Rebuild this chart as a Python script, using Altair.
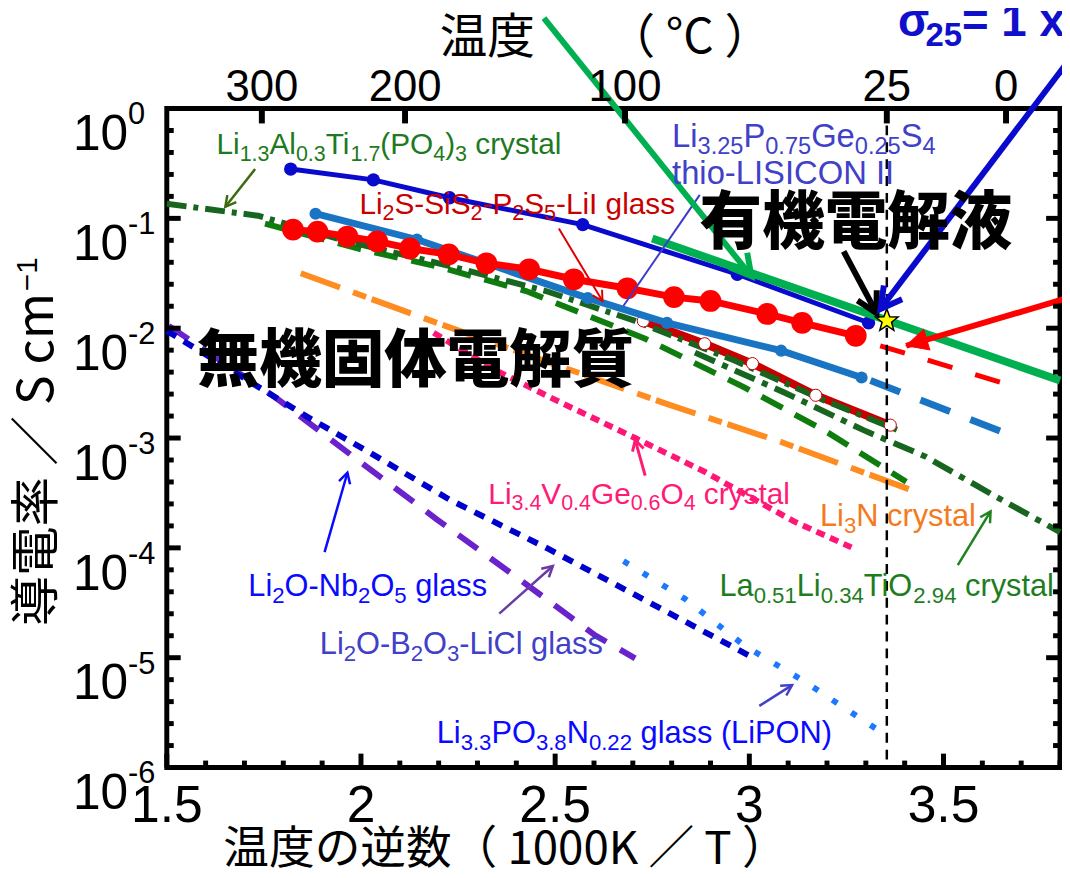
import math
import numpy as np
import pandas as pd
import altair as alt

# ---------------- measured series: x = 1000/T (1/K), y = conductivity (S/cm) ----------------
thio_x = [1.819, 2.032, 2.228, 2.571, 2.969, 3.307]
thio_y = [0.281, 0.224, 0.154, 0.0877, 0.0310, 0.0112]

redc_x = [1.825, 1.888, 1.965, 2.042, 2.126, 2.226, 2.323, 2.433, 2.548, 2.686, 2.806, 2.900, 3.046, 3.136, 3.274]
redc_y = [0.0790, 0.0758, 0.0683, 0.0616, 0.0532, 0.0470, 0.0390, 0.0344, 0.0279, 0.0231, 0.0192, 0.0177, 0.01348, 0.01117, 0.00853]
redext_x = [3.337, 3.657]
redext_y = [0.00692, 0.00314]

lblue_x = [1.883, 2.144, 2.584, 2.788, 3.082, 3.289]
lblue_y = [0.1102, 0.0642, 0.0188, 0.01117, 0.00624, 0.00356]
lbext_x = [3.312, 3.659]
lbext_y = [0.00334, 0.00111]

band_x = [2.727, 2.885, 3.008, 3.171, 3.363]
band_y = [0.01165, 0.00722, 0.00476, 0.00245, 0.00131]

latp_x = [1.500, 1.735, 1.965, 2.221, 2.476, 2.706, 2.962, 3.192, 3.396]
latp_y = [0.1357, 0.1057, 0.0616, 0.0374, 0.0218, 0.01165, 0.00507, 0.00221, 0.00113]

llto_x = [2.860, 3.090, 3.294, 3.455, 3.626, 3.800]
llto_y = [0.00599, 0.00260, 0.00118, 0.000674, 0.000305, 0.000139]

lgreen_x = [1.753, 1.991, 2.195, 2.425, 2.732, 2.987, 3.192, 3.404]
lgreen_y = [0.0895, 0.0532, 0.0366, 0.0218, 0.00801, 0.00289, 0.00118, 0.000400]

li3n_x = [1.845, 2.203, 2.783, 3.082, 3.414]
li3n_y = [0.0316, 0.01094, 0.00207, 0.000920, 0.000339]

lvgo_x = [2.187, 2.348, 2.502, 2.706, 2.885, 3.115, 3.263]
lvgo_y = [0.00908, 0.00412, 0.00221, 0.00100, 0.000493, 0.000174, 0.000101]

lno_x = [1.500, 1.717, 1.863, 2.024, 2.228, 2.484, 2.739, 3.013]
lno_y = [0.00946, 0.00321, 0.00155, 0.000732, 0.000275, 0.0000973, 0.0000323, 0.00000986]

lbl_x = [1.505, 1.779, 1.991, 2.195, 2.407, 2.604, 2.706]
lbl_y = [0.0105, 0.00235, 0.000633, 0.000182, 0.0000521, 0.0000159, 0.00000986]

lipon_x = [2.676, 2.834, 2.987, 3.141, 3.353]
lipon_y = [7.58e-5, 3.44e-5, 1.29e-5, 6.11e-6, 1.95e-6]

org_x = [2.750, 3.800]
org_y = [0.0655, 0.00334]

star_x = [3.354]
star_y = [0.0117]

# ---------------- axis ticks ----------------
top_c = [300, 200, 100, 25, 0]
bot_major = [1.5, 2.0, 2.5, 3.0, 3.5]
bot_labels = ["1.5", "2", "2.5", "3", "3.5"]
y_exps = [0, -1, -2, -3, -4, -5, -6]

# ---------------- annotation anchors (data coords) ----------------
arr_x0 = [1.7274, 2.5095, 2.8724, 2.4711, 3.2429, 3.8179, 3.8102, 2.7318, 3.5368, 1.9063, 2.3561, 3.0257]
arr_y0 = [0.2811, 0.0807, 0.1637, 6.642, 0.05, 2.604, 0.01841, 0.000454, 0.0000697, 0.0000914, 0.0000252, 0.00000364]
arr_x1 = [1.6508, 2.6219, 2.6756, 3.0052, 3.3273, 3.3375, 3.4039, 2.7062, 3.6211, 1.9651, 2.4941, 3.1100]
arr_y1 = [0.1274, 0.01766, 0.01591, 0.02971, 0.01376, 0.01495, 0.00692, 0.000959, 0.000215, 0.000483, 0.0000683, 0.00000563]
arr_col = ["#3f6b10", "#e00000", "#3c3cc8", "#00b050", "#000000", "#0a0acd", "#ff0000",
           "#ff1a75", "#1e821e", "#0a0aff", "#6a3aa8", "#4040c8"]
arr_w = [2.5, 2, 2, 6, 6, 6, 6, 3, 2.5, 2.5, 2.5, 2.5]
arr_head = ["v", "v", "none", "v", "v", "v", "tri", "v", "v", "v", "v", "v"]
arr_hsize = [441, 400, 0, 1764, 1600, 1764, 1300, 441, 441, 441, 441, 441]

# ---------------- layout constants ----------------
SANS = "Liberation Sans, Arial, sans-serif"
NF = 1.0
CJK = "Noto Sans CJK JP"
W, H = 900, 664
X0, X1 = 1.5, 3.8
PXX = W / (X1 - X0)
PXD = H / 6.0

xs = alt.Scale(domain=[X0, X1], nice=False, zero=False)
ys = alt.Scale(type="log", domain=[1e-6, 1], nice=False)


def X(f="x"):
    return alt.X(f"{f}:Q", scale=xs, axis=None)


def Y(f="y"):
    return alt.Y(f"{f}:Q", scale=ys, axis=None)


def line(xv, yv, color, width, dash=None):
    df = pd.DataFrame({"x": xv, "y": yv, "o": list(range(len(xv)))})
    kw = dict(color=color, strokeWidth=width)
    if dash:
        kw["strokeDash"] = dash
    return alt.Chart(df).mark_line(**kw).encode(x=X(), y=Y(), order="o:Q")


def pts(xv, yv, size, fill, stroke=None, sw=0, shape="circle"):
    df = pd.DataFrame({"x": xv, "y": yv})
    kw = dict(shape=shape, filled=True, fill=fill, size=size, opacity=1)
    if stroke:
        kw.update(stroke=stroke, strokeWidth=sw)
    else:
        kw.update(strokeWidth=0)
    return alt.Chart(df).mark_point(**kw).encode(x=X(), y=Y())


VEE = "M -0.55 1 L 0 0 L 0.55 1"
TRI = "M 0 0 L -0.6 1.2 L 0.6 1.2 Z"
_sp = []
for k in range(10):
    r = 1.0 if k % 2 == 0 else 0.42
    a = math.pi / 2 + k * math.pi / 5
    _sp.append(f"{r * math.cos(a):.3f},{-r * math.sin(a):.3f}")
STAR = "M " + " L ".join(_sp) + " Z"


def head_angle(x0, y0, x1, y1):
    dxp = (x1 - x0) * PXX
    dyp = -(math.log10(y1) - math.log10(y0)) * PXD
    return math.degrees(math.atan2(dxp, -dyp)) % 360


WID = {" ": 278, "(": 333, ")": 333, "-": 333, ".": 278, "=": 584,
       "A": 667, "B": 667, "C": 722, "D": 722, "E": 667, "G": 778, "I": 278, "K": 667,
       "L": 556, "N": 722, "O": 778, "P": 667, "S": 667, "T": 611, "V": 667,
       "a": 556, "b": 556, "c": 500, "e": 556, "g": 556, "h": 556, "i": 222, "l": 222,
       "m": 833, "n": 556, "o": 556, "r": 333, "s": 500, "t": 278, "x": 500, "y": 500,
       "σ": 600}


def textw(t):
    return sum(WID.get(ch, 556) for ch in t) / 1000.0


def rich(parts, x0, y0, size, color, nf=NF):
    rows = []
    off = 0.0
    for txt, mode in parts:
        if mode == "n":
            fs, dy = size, 0.0
        elif mode == "b":
            fs, dy = size * 0.72, size * 0.22
        else:
            fs, dy = size * 0.65, -size * 0.42
        lead = len(txt) - len(txt.lstrip(" "))
        off += textw(" " * lead) * fs * nf
        body = txt.lstrip(" ")
        rows.append(dict(x=x0 + off / PXX, y=y0 * 10 ** (-dy / PXD), t=body, s=fs, c=color))
        off += textw(body) * fs * nf
    return rows


layers = []

# series (back to front)
layers.append(line(lbl_x, lbl_y, "#6a22cc", 6, [24, 16]))
layers.append(line(lno_x, lno_y, "#0000cc", 6, [11, 9]))
layers.append(line(lipon_x, lipon_y, "#1e78ff", 6, [6, 17]))
layers.append(line(lvgo_x, lvgo_y, "#ff1777", 6, [9, 6]))
layers.append(line(li3n_x, li3n_y, "#ff8c20", 6, [42, 14, 14, 6]))
layers.append(line(band_x, band_y, "#c80000", 8))
layers.append(line(lgreen_x, lgreen_y, "#0e7d0e", 6, [24, 14]))
layers.append(line(latp_x, latp_y, "#17651f", 6, [20, 7, 5, 7]))
layers.append(line(llto_x, llto_y, "#17651f", 6, [22, 8, 6, 8]))
layers.append(pts(band_x, band_y, 150, "white", "#c80000", 1))
layers.append(line(lblue_x, lblue_y, "#1a74c4", 7))
layers.append(pts(lblue_x, lblue_y, 150, "#1a74c4"))
layers.append(line(lbext_x, lbext_y, "#1a74c4", 7, [32, 22]))
layers.append(line(redc_x, redc_y, "#ff0000", 7))
layers.append(pts(redc_x, redc_y, 480, "#ff0000"))
layers.append(line(redext_x, redext_y, "#ff0000", 5, [26, 24]))
layers.append(line(thio_x, thio_y, "#0a0acd", 5))
layers.append(pts(thio_x, thio_y, 180, "#0a0acd"))
layers.append(line(org_x, org_y, "#00b050", 8))

# 25 C dashed line
layers.append(alt.Chart(pd.DataFrame({"x": [1000 / 298.15]})).mark_rule(
    color="black", strokeWidth=2.5, strokeDash=[10, 7]).encode(x=X()))

# star
layers.append(pts(star_x, star_y, 576, "#ffff00", "black", 1.5, shape=STAR))

# arrows
for i in range(len(arr_x0)):
    df = pd.DataFrame({"x": [arr_x0[i]], "y": [arr_y0[i]], "x2": [arr_x1[i]], "y2": [arr_y1[i]]})
    layers.append(alt.Chart(df).mark_rule(color=arr_col[i], strokeWidth=arr_w[i]).encode(
        x=X("x"), y=Y("y"), x2="x2:Q", y2="y2:Q"))
    if arr_head[i] == "none":
        continue
    hd = pd.DataFrame({"x": [arr_x1[i]], "y": [arr_y1[i]],
                       "a": [head_angle(arr_x0[i], arr_y0[i], arr_x1[i], arr_y1[i])]})
    if arr_head[i] == "tri":
        mk = alt.Chart(hd).mark_point(shape=TRI, filled=True, fill=arr_col[i], stroke=arr_col[i],
                                      strokeWidth=1, size=arr_hsize[i], opacity=1)
    else:
        mk = alt.Chart(hd).mark_point(shape=VEE, filled=False, stroke=arr_col[i], fill=None,
                                      strokeWidth=arr_w[i], size=arr_hsize[i], opacity=1)
    layers.append(mk.encode(x=X(), y=Y(), angle=alt.Angle("a:Q", scale=None)))

# ---------------- ticks ----------------
ymaj = pd.DataFrame({"y": [10.0 ** e for e in y_exps], "e": [str(e) for e in y_exps]})
ymin = pd.DataFrame({"y": [10.0 ** (-k * 0.2) for k in range(31) if k % 5 != 0]})
xmin_vals = [round(1.5 + 0.1 * k, 2) for k in range(24)]
xmin = pd.DataFrame({"x": [v for v in xmin_vals if v not in bot_major]})
xmaj = pd.DataFrame({"x": bot_major, "lab": bot_labels})
tmaj = pd.DataFrame({"x": [1000.0 / (c + 273.15) for c in top_c], "lab": [str(c) for c in top_c]})

layers.append(alt.Chart(ymaj).mark_rule(color="black", strokeWidth=5).encode(y=Y(), x=alt.value(0), x2=alt.value(14)))
layers.append(alt.Chart(ymin).mark_rule(color="black", strokeWidth=5).encode(y=Y(), x=alt.value(0), x2=alt.value(7)))
layers.append(alt.Chart(ymaj).mark_rule(color="black", strokeWidth=5).encode(y=Y(), x=alt.value(W), x2=alt.value(W - 14)))
layers.append(alt.Chart(ymin).mark_rule(color="black", strokeWidth=5).encode(y=Y(), x=alt.value(W), x2=alt.value(W - 7)))
layers.append(alt.Chart(xmaj).mark_rule(color="black", strokeWidth=5).encode(x=X(), y=alt.value(H), y2=alt.value(H - 14)))
layers.append(alt.Chart(xmin).mark_rule(color="black", strokeWidth=5).encode(x=X(), y=alt.value(H), y2=alt.value(H - 7)))
layers.append(alt.Chart(tmaj).mark_rule(color="black", strokeWidth=6).encode(x=X(), y=alt.value(0), y2=alt.value(15)))

# tick labels
layers.append(alt.Chart(ymaj).mark_text(font=SANS, fontSize=50, align="right", baseline="alphabetic", dy=42,
                                        color="black").encode(y=Y(), x=alt.value(-39), text=alt.value("10")))
layers.append(alt.Chart(ymaj).mark_text(font=SANS, fontSize=31, align="left", baseline="alphabetic", dy=16,
                                        color="black").encode(y=Y(), x=alt.value(-39), text="e:N"))
layers.append(alt.Chart(xmaj).mark_text(font=SANS, fontSize=52, align="center", baseline="alphabetic", dy=55,
                                        color="black").encode(x=X(), y=alt.value(H), text="lab:N"))
layers.append(alt.Chart(tmaj).mark_text(font=SANS, fontSize=44, align="center", baseline="alphabetic", dy=-8,
                                        color="black").encode(x=X(), y=alt.value(0), text="lab:N"))

# axis titles
layers.append(alt.Chart(pd.DataFrame({"t": ["温度の逆数（ 1000K ／ T ）"]})).mark_text(
    font=CJK, fontSize=46, align="left", baseline="middle", color="black").encode(
    x=alt.value(57), y=alt.value(747), text="t:N"))
layers.append(alt.Chart(pd.DataFrame({"t": ["温度"]})).mark_text(
    font=CJK, fontSize=48, align="left", baseline="middle", color="black").encode(
    x=alt.value(275), y=alt.value(-70), text="t:N"))
layers.append(alt.Chart(pd.DataFrame({"t": ["（ °C ）"]})).mark_text(
    font=CJK, fontSize=48, align="left", baseline="middle", color="black").encode(
    x=alt.value(444), y=alt.value(-70), text="t:N"))
layers.append(alt.Chart(pd.DataFrame({"t": ["導電率 ／ S cm"]})).mark_text(
    font=CJK, fontSize=50, align="right", baseline="alphabetic", angle=270, color="black").encode(
    x=alt.value(-115), y=alt.value(186), text="t:N"))
layers.append(alt.Chart(pd.DataFrame({"t": ["−1"]})).mark_text(
    font=SANS, fontSize=30, align="left", baseline="alphabetic", angle=270, color="black").encode(
    x=alt.value(-131), y=alt.value(184), text="t:N"))

# ---------------- rich labels ----------------
rows = []
rows += rich([("Li", "n"), ("1.3", "b"), ("Al", "n"), ("0.3", "b"), ("Ti", "n"), ("1.7", "b"), ("(PO", "n"),
              ("4", "b"), (")", "n"), ("3", "b"), (" crystal", "n")], 1.628, 0.384, 30, "#1e7a1e")
rows += rich([("Li", "n"), ("2", "b"), ("S-SiS", "n"), ("2", "b"), ("-P", "n"), ("2", "b"), ("S", "n"),
              ("5", "b"), ("-LiI glass", "n")], 1.996, 0.1102, 30, "#c80000")
rows += rich([("Li", "n"), ("3.25", "b"), ("P", "n"), ("0.75", "b"), ("Ge", "n"), ("0.25", "b"), ("S", "n"),
              ("4", "b")], 2.801, 0.444, 33, "#4040c8")
rows += rich([("thio-LISICON II", "n")], 2.801, 0.2057, 33, "#4040c8")
rows += rich([("Li", "n"), ("3.4", "b"), ("V", "n"), ("0.4", "b"), ("Ge", "n"), ("0.6", "b"), ("O", "n"),
              ("4", "b"), (" crystal", "n")], 2.328, 0.000253, 30, "#ff1a75")
rows += rich([("Li", "n"), ("3", "b"), ("N crystal", "n")], 3.182, 0.000157, 31, "#f57a1e")
rows += rich([("La", "n"), ("0.51", "b"), ("Li", "n"), ("0.34", "b"), ("TiO", "n"), ("2.94", "b"),
              (" crystal", "n")], 2.923, 0.0000366, 31, "#1e7d1e")
rows += rich([("Li", "n"), ("2", "b"), ("O-Nb", "n"), ("2", "b"), ("O", "n"), ("5", "b"), (" glass", "n")],
             1.710, 0.0000366, 31, "#0a0aff")
rows += rich([("Li", "n"), ("2", "b"), ("O-B", "n"), ("2", "b"), ("O", "n"), ("3", "b"), ("-LiCl glass", "n")],
             1.894, 0.0000107, 31, "#4040c8")
rows += rich([("Li", "n"), ("3.3", "b"), ("PO", "n"), ("3.8", "b"), ("N", "n"), ("0.22", "b"),
              (" glass (LiPON)", "n")], 2.195, 0.00000168, 31, "#0a0aff")
layers.append(alt.Chart(pd.DataFrame(rows)).mark_text(font=SANS, align="left", baseline="alphabetic").encode(
    x=X(), y=Y(), text="t:N", size=alt.Size("s:Q", scale=None), color=alt.Color("c:N", scale=None)))

srows = rich([("σ", "n"), ("25", "b"), ("= 1 x 10", "n"), ("-2", "p"), (" S cm", "n")], 3.383, 4.57, 46,
             "#1010cc", nf=1.0)
layers.append(alt.Chart(pd.DataFrame(srows)).mark_text(font=SANS, fontWeight="bold", align="left",
                                                        baseline="alphabetic").encode(
    x=X(), y=Y(), text="t:N", size=alt.Size("s:Q", scale=None), color=alt.Color("c:N", scale=None)))

# big Japanese labels
big = pd.DataFrame({"x": [2.872, 1.577], "y": [0.0895, 0.00486], "t": ["有機電解液", "無機固体電解質"]})
layers.append(alt.Chart(big).mark_text(font=CJK, fontWeight=900, fontSize=63, align="left", baseline="middle",
                                       color="black").encode(x=X(), y=Y(), text="t:N"))

chart = alt.layer(*layers).properties(
    width=W, height=H,
    padding={"left": 160, "top": 98, "right": 2, "bottom": 106},
    autosize=alt.AutoSizeParams(type="none"),
).configure_view(stroke="black", strokeWidth=5)

chart.save("out.html", embed_options={"renderer": "svg", "actions": False})
